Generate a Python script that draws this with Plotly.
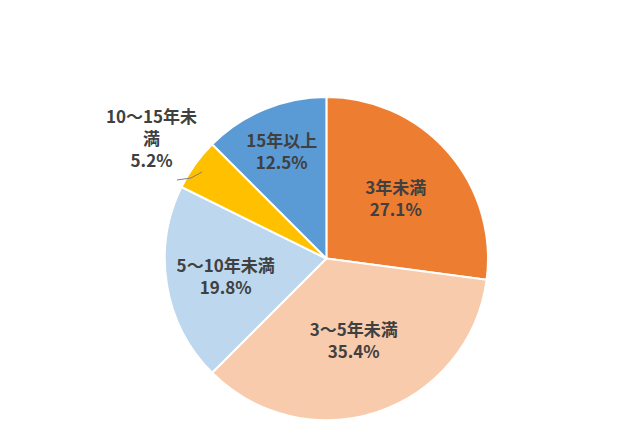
import plotly.graph_objects as go

labels = ["3年未満", "3～5年未満", "5～10年未満", "10～15年未満", "15年以上"]
values = [27.1, 35.4, 19.8, 5.2, 12.5]
colors = ["#ED7D31", "#F8CBAD", "#BDD7EE", "#FFC000", "#5B9BD5"]
positions = ["inside", "inside", "inside", "none", "inside"]

font = dict(family="Noto Sans CJK JP", size=17, color="#404040")

fig = go.Figure(go.Pie(
    labels=labels, values=values, sort=False, direction="clockwise", rotation=0,
    marker=dict(colors=colors, line=dict(color="white", width=2)),
    texttemplate="<b>%{label}<br>%{value:.1f}%</b>",
    textposition=positions, insidetextorientation="horizontal",
    textfont=font,
    domain=dict(x=[0.242, 0.753], y=[0.078, 0.801]),
    showlegend=False, hoverinfo="label+percent",
))

# outside label for the small slice (wrapped like the original)
fig.add_annotation(
    x=143/640, y=1-129/447, xref="paper", yref="paper", xanchor="center", yanchor="middle",
    text="<b>10～15年未<br>満<br>%.1f%%</b>" % values[3], showarrow=False,
    font=font, align="center",
)
fig.add_shape(type="path", xref="paper", yref="paper",
              path="M %f %f L %f %f L %f %f" % (169/640, 1-172/447, 183/640, 1-170/447, 194/640, 1-164/447),
              line=dict(color="#7F7F7F", width=1))

fig.update_layout(width=640, height=447, margin=dict(l=0, r=0, t=0, b=0),
                  paper_bgcolor="white", plot_bgcolor="white")
fig.write_html("out.html")
